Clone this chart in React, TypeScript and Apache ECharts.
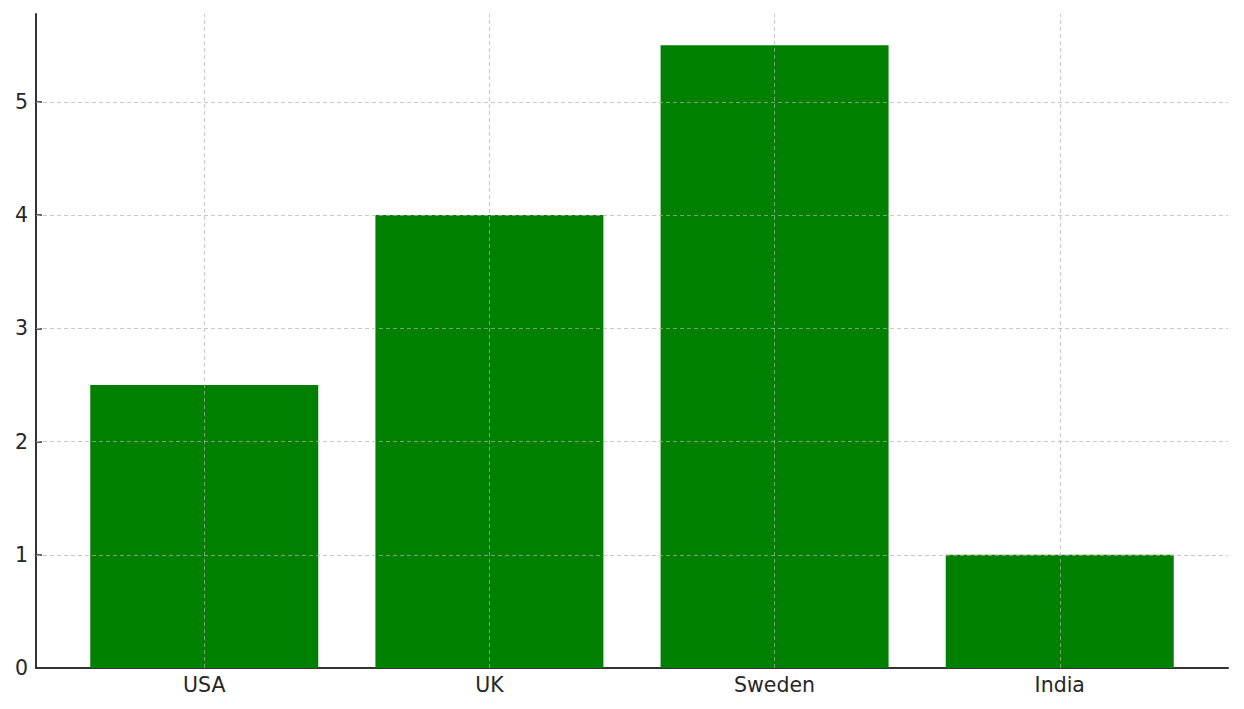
import React, { useEffect, useRef } from "react";
import * as echarts from "echarts";

const categories = ["USA", "UK", "Sweden", "India"];
const values = [2.5, 4, 5.5, 1];
const yTicks = [0, 1, 2, 3, 4, 5];

export default function App() {
  const ref = useRef<HTMLDivElement>(null);
  useEffect(() => {
    if (!ref.current) return;
    const chart = echarts.init(ref.current, null, { renderer: "svg" });
    const xPos = categories.map((_, i) => i);
    const gridColor = "rgba(176,176,176,0.7)";
    const font = { fontFamily: "DejaVu Sans", fontSize: 20.5, color: "#262626" };
    chart.setOption({
      animation: false,
      backgroundColor: "#fff",
      grid: { left: 36, right: 16, top: 14, bottom: 41, containLabel: false },
      xAxis: {
        type: "value",
        min: -0.59,
        max: 3.59,
        splitLine: { show: false },
        axisLine: { show: true, onZero: false, lineStyle: { color: "#333", width: 2 } },
        axisTick: { show: true, customValues: xPos, length: 5, inside: true, lineStyle: { color: "#333" } },
        axisLabel: {
          ...font,
          margin: 6,
          customValues: xPos,
          formatter: (v: number) => categories[Math.round(v)] ?? "",
        },
      },
      yAxis: {
        type: "value",
        min: 0,
        max: 5.775,
        splitLine: { show: false },
        axisLine: { show: true, onZero: false, lineStyle: { color: "#333", width: 2 } },
        axisTick: { show: true, customValues: yTicks, length: 6, inside: true, lineStyle: { color: "#333", width: 1.5 } },
        axisLabel: { ...font, margin: 8, customValues: yTicks },
      },
      series: [
        {
          type: "bar",
          data: values.map((v, i) => [i, v]),
          barWidth: 228,
          itemStyle: { color: "#008000" },
          markLine: {
            silent: true,
            symbol: "none",
            label: { show: false },
            lineStyle: { color: gridColor, type: [4, 3], width: 1 },
            data: [
              ...yTicks.filter((t) => t > 0).map((t) => ({ yAxis: t })),
              ...xPos.map((x) => ({ xAxis: x })),
            ],
          },
        },
      ],
    });
    return () => chart.dispose();
  }, []);
  return (
    <div
      ref={ref}
      style={{ position: "fixed", left: 0, top: 0, width: 1244, height: 709 }}
    />
  );
}
